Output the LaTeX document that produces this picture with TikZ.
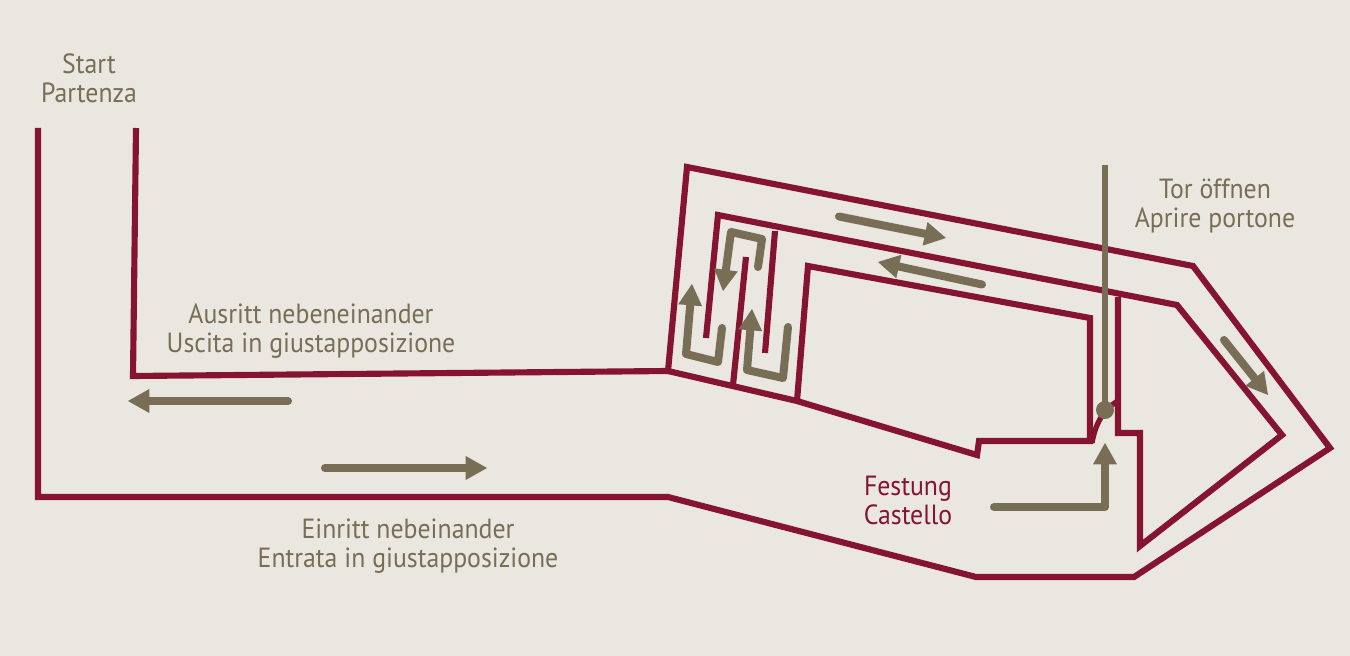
\documentclass[tikz,border=0pt]{standalone}
\usepackage{fontspec}
\setmainfont[FakeStretch=0.93]{PT Sans}
\usetikzlibrary{arrows.meta}
\definecolor{bgc}{HTML}{EAE7E0}
\definecolor{wallc}{HTML}{851431}
\definecolor{olivec}{HTML}{786D55}
\tikzset{
  wall/.style={draw=wallc,line width=4.6pt,line join=miter,line cap=butt},
  flow/.style={draw=olivec,line width=6pt,line cap=round,line join=round,
    -{Triangle[length=16pt,width=18pt,fill=olivec,line width=0pt]}},
  lab/.style={text=olivec,align=center,font=\fontsize{20.8}{21.8}\selectfont,inner sep=0pt},
  labred/.style={lab,text=wallc}
}
\begin{document}
\begin{tikzpicture}[x=0.75pt,y=-0.75pt]
\useasboundingbox (0,0) rectangle (1350,656);
\fill[bgc] (0,0) rectangle (1350,656);
% walls
\draw[wall] (136,128) -- (133,376) -- (668,371) -- (687,167) -- (1193,266) -- (1330,448) -- (1134,577) -- (976,577) -- (668,497) -- (38,497) -- (38,128);
\draw[wall] (668,371) -- (797,401) -- (977,455) -- (979,441) -- (1090,441) -- (1090,318) -- (808,266) -- (797,401);
\draw[wall] (706,338) -- (718,215) -- (1177,305) -- (1282,435) -- (1140,546) -- (1140,433) -- (1118,433) -- (1118,297);
\draw[wall] (775,231) -- (765,353);
\draw[wall] (746,257) -- (733,385);
\draw[draw=wallc,line width=4pt] (1092,443) .. controls (1095,425) and (1103,409) .. (1118,401);
% flows
\draw[flow] (288,401) -- (128,401);
\draw[flow] (325,468) -- (487,468);
\draw[flow] (839,216.5) -- (946,238);
\draw[flow] (982,284.5) -- (878,262);
\draw[flow] (1224,340) -- (1268,395);
\draw[flow] (994,507) -- (1105,507) -- (1105,443);
\draw[flow] (722,328) -- (718,362) -- (686,354) -- (692,284);
\draw[flow] (788,327) -- (783,378) -- (747,370) -- (752,309);
\draw[flow] (758,267) -- (762,239) -- (731,232) -- (723,291);
% gate
\draw[draw=olivec,line width=3.8pt] (1105,165) -- (1105,410);
\fill[olivec] (1105,410) circle (9);
% labels
\node[lab] (start) at (89,78) {Start\\Partenza};
\node[lab] (aus) at (311,331) {Ausritt nebeneinander\\Uscita in giustapposizione};
\node[lab] (ein) at (408,546) {Einritt nebeinander\\Entrata in giustapposizione};
\node[lab] (tor) at (1215,206) {Tor öffnen\\Aprire portone};
\node[labred] (fest) at (908,500) {Festung\\Castello};
\end{tikzpicture}
\end{document}
